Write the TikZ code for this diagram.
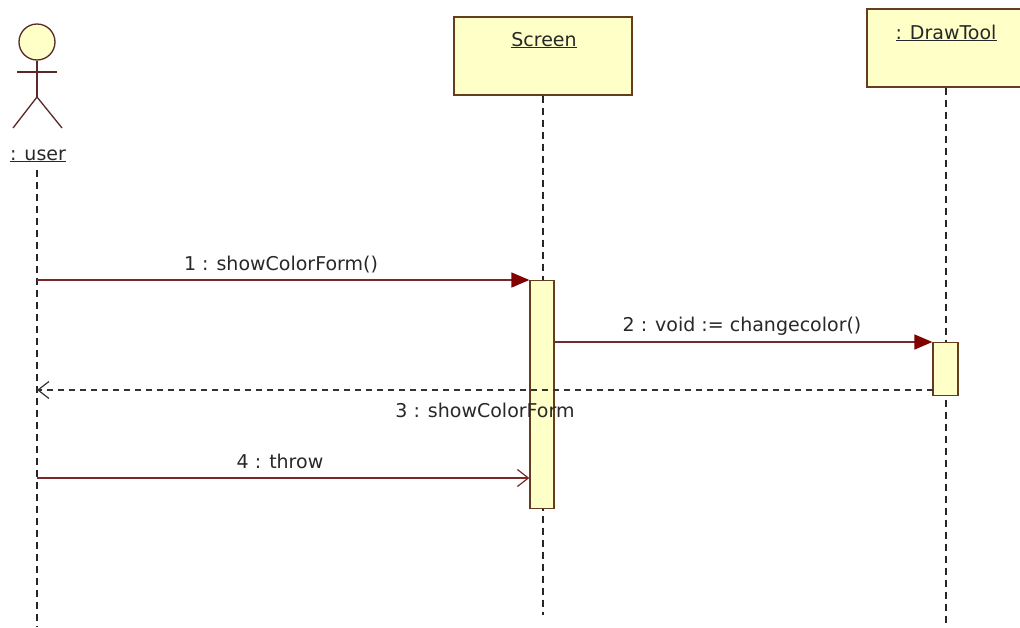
\documentclass[tikz,border=0pt]{standalone}
\usepackage{fontspec}
\setmainfont{DejaVu Sans}
\usetikzlibrary{arrows.meta}
\definecolor{msg}{RGB}{120,40,40}
\definecolor{headc}{RGB}{128,0,0}
\definecolor{boxline}{RGB}{100,60,30}
\definecolor{boxfill}{RGB}{255,255,200}
\definecolor{txt}{RGB}{40,40,40}
\definecolor{actorline}{RGB}{90,40,40}
\begin{document}
\begin{tikzpicture}[x=1pt,y=-1pt,
  lifeline/.style={draw=black!85, line width=1.5pt, dash pattern=on 7pt off 5pt},
  objbox/.style={draw=boxline, fill=boxfill, line width=1.3pt, inner sep=0pt},
  activation/.style={draw=boxline, fill=boxfill, line width=1.3pt, inner sep=0pt, minimum width=24pt},
  call/.style={draw=msg, line width=1.5pt, -{Triangle[length=18pt,width=15pt,fill=headc,color=headc]}},
  reply/.style={draw=black!80, line width=1.4pt, dash pattern=on 6pt off 5pt, -{Straight Barb[length=11pt,width=17pt,line width=1.2pt]}},
  async/.style={draw=msg, line width=1.5pt, -{Straight Barb[length=11pt,width=17pt,line width=1.2pt]}},
  lbl/.style={font=\fontsize{19}{22}\selectfont, text=txt, inner sep=0pt, anchor=base},
  actorpart/.style={draw=actorline, line width=1.3pt}
]
\useasboundingbox (0,0) rectangle (1020,627);
\fill[white] (0,0) rectangle (1020,627);
\clip (0,0) rectangle (1020,627);

% actor
\node[circle, draw=actorline, fill=boxfill, line width=1.3pt, minimum size=36pt, inner sep=0pt] (head) at (37,42) {};
\coordinate (hip) at (37,97);
\coordinate (armL) at (17,72);
\coordinate (armR) at (57,72);
\coordinate (legL) at (13,128);
\coordinate (legR) at (62,128);
\draw[actorpart] (head.south) -- (hip);
\draw[actorpart] (armL) -- (armR);
\draw[actorpart] (legL) -- (hip) -- (legR);
\node[lbl] (userlbl) at (38,160) {\underline{: user}};

% objects
\node[objbox, minimum width=178pt, minimum height=78pt] (screen) at (543,56) {};
\node[lbl] (screenlbl) at (544,46) {\underline{Screen}};
\node[objbox, minimum width=158pt, minimum height=78pt] (drawtool) at (946,48) {};
\node[lbl] (drawtoollbl) at (946,39) {\underline{: DrawTool}};

% lifelines
\coordinate (userTop) at (37,170);
\coordinate (userBot) at (37,627);
\coordinate (screenBot) at (543,615);
\coordinate (drawBot) at (946,627);
\draw[lifeline] (userTop) -- (userBot);
\draw[lifeline] (screen.south) -- (screenBot);
\draw[lifeline] (drawtool.south) -- (drawBot);

% activations
\node[activation, minimum height=228pt, anchor=north] (actS) at (542,280) {};
\node[activation, minimum height=53pt, minimum width=25pt, anchor=north] (actD) at (945.5,342) {};

% messages
\coordinate (u1) at (37,280);
\coordinate (u3) at (37,390);
\coordinate (u4) at (37,478);
\coordinate (d3) at (933,390);
\draw[call] (u1) -- (actS.north west);
\node[lbl] (m1) at (281,270) {1 : showColorForm()};
\draw[call] (actS.east |- actD.north) -- (actD.north west);
\node[lbl] (m2) at (742,331) {2 : void := changecolor()};
\draw[reply] (d3) -- (u3);
\node[lbl] (m3) at (485,417) {3 : showColorForm};
\draw[async] (u4) -- (actS.west |- u4);
\node[lbl] (m4) at (280,468) {4 : throw};
\end{tikzpicture}
\end{document}
